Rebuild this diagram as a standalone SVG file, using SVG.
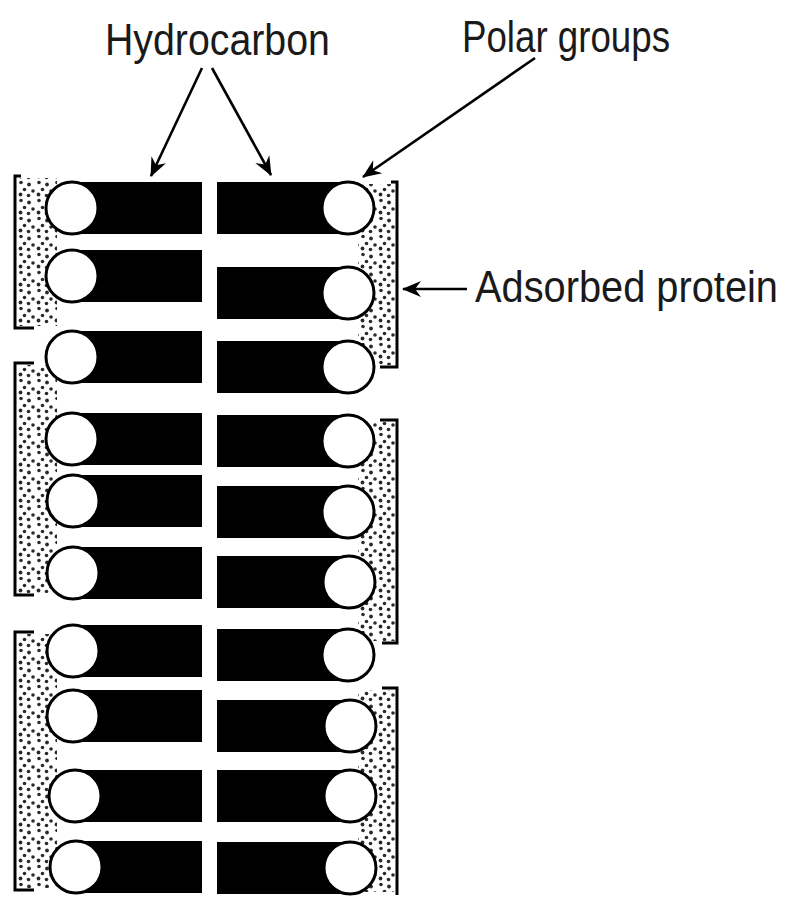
<svg xmlns="http://www.w3.org/2000/svg" width="791" height="899" viewBox="0 0 791 899">
  <style>
    .tail { fill: #000; }
    .head { fill: #fff; stroke: #000; stroke-width: 3; }
    .bracket { fill: none; stroke: #000; stroke-width: 3; stroke-linejoin: miter; }
    .stipple { fill: url(#dots); }
    .label { font-family: "Liberation Sans", Arial, sans-serif; fill: #1a1a1a; }
    .arrow { fill: none; stroke: #000; stroke-width: 2.6; marker-end: url(#barb); }
  </style>
  <defs>
    <pattern id="dots" width="18" height="18" patternUnits="userSpaceOnUse">
      <circle cx="3" cy="2.5" r="1.8" fill="#2a2a2a"/>
      <circle cx="11" cy="4.5" r="1.9" fill="#2a2a2a"/>
      <circle cx="6.5" cy="9.5" r="1.8" fill="#2a2a2a"/>
      <circle cx="15" cy="11" r="1.8" fill="#2a2a2a"/>
      <circle cx="2.5" cy="14.5" r="1.9" fill="#2a2a2a"/>
      <circle cx="10.5" cy="15.5" r="1.8" fill="#2a2a2a"/>
    </pattern>
    <marker id="barb" viewBox="-20 -10 22 20" refX="0" refY="0" markerWidth="22" markerHeight="20" markerUnits="userSpaceOnUse" orient="auto">
      <path d="M1,0 L-18,-8 L-12,0 L-18,8 Z" fill="#000"/>
    </marker>
  </defs>

  <rect width="791" height="899" fill="#fff"/>

  <!-- adsorbed protein layers: stippled fill behind the polar heads -->
  <g id="protein">
    <rect class="stipple" x="17" y="178" width="40" height="148"/>
    <rect class="stipple" x="17" y="365" width="40" height="228"/>
    <rect class="stipple" x="17" y="634" width="40" height="254"/>
    <rect class="stipple" x="358" y="184" width="37" height="181"/>
    <rect class="stipple" x="358" y="422" width="37" height="219"/>
    <rect class="stipple" x="358" y="690" width="37" height="202"/>
    <path class="bracket" d="M21,176 H15 V328 H34"/>
    <path class="bracket" d="M34,363 H15 V595 H34"/>
    <path class="bracket" d="M34,632 H15 V890 H34"/>
    <path class="bracket" d="M391,182 H397 V367 H380"/>
    <path class="bracket" d="M380,420 H397 V643 H382"/>
    <path class="bracket" d="M382,688 H397 V895"/>
  </g>

  <!-- left leaflet: head on the left, chain pointing inward -->
  <g id="left-leaflet">
    <g id="L1"><rect class="tail" x="72" y="182" width="130" height="52"/><circle class="head" cx="72" cy="208" r="26"/></g>
    <g id="L2"><rect class="tail" x="72" y="250" width="130" height="52"/><circle class="head" cx="72" cy="276" r="26"/></g>
    <g id="L3"><rect class="tail" x="72" y="331" width="130" height="52"/><circle class="head" cx="72" cy="357" r="26"/></g>
    <g id="L4"><rect class="tail" x="72" y="413" width="130" height="52"/><circle class="head" cx="72" cy="439" r="26"/></g>
    <g id="L5"><rect class="tail" x="73" y="475" width="129" height="52"/><circle class="head" cx="73" cy="501" r="26"/></g>
    <g id="L6"><rect class="tail" x="73" y="547" width="129" height="52"/><circle class="head" cx="73" cy="573" r="26"/></g>
    <g id="L7"><rect class="tail" x="73" y="625" width="129" height="52"/><circle class="head" cx="73" cy="651" r="26"/></g>
    <g id="L8"><rect class="tail" x="73" y="690" width="129" height="52"/><circle class="head" cx="73" cy="716" r="26"/></g>
    <g id="L9"><rect class="tail" x="75" y="770" width="127" height="52"/><circle class="head" cx="75" cy="796" r="26"/></g>
    <g id="L10"><rect class="tail" x="76" y="841" width="126" height="52"/><circle class="head" cx="76" cy="867" r="26"/></g>
  </g>

  <!-- right leaflet: chain pointing inward, head on the right -->
  <g id="right-leaflet">
    <g id="R1"><rect class="tail" x="217" y="182" width="131" height="52"/><circle class="head" cx="348" cy="208" r="26"/></g>
    <g id="R2"><rect class="tail" x="217" y="267" width="131" height="52"/><circle class="head" cx="348" cy="293" r="26"/></g>
    <g id="R3"><rect class="tail" x="217" y="341" width="131" height="52"/><circle class="head" cx="348" cy="367" r="26"/></g>
    <g id="R4"><rect class="tail" x="217" y="415" width="131" height="52"/><circle class="head" cx="348" cy="441" r="26"/></g>
    <g id="R5"><rect class="tail" x="217" y="486" width="131" height="52"/><circle class="head" cx="348" cy="512" r="26"/></g>
    <g id="R6"><rect class="tail" x="217" y="556" width="132" height="52"/><circle class="head" cx="349" cy="582" r="26"/></g>
    <g id="R7"><rect class="tail" x="217" y="629" width="131" height="52"/><circle class="head" cx="348" cy="655" r="26"/></g>
    <g id="R8"><rect class="tail" x="217" y="700" width="133" height="52"/><circle class="head" cx="350" cy="726" r="26"/></g>
    <g id="R9"><rect class="tail" x="217" y="770" width="133" height="52"/><circle class="head" cx="350" cy="796" r="26"/></g>
    <g id="R10"><rect class="tail" x="217" y="842" width="133" height="52"/><circle class="head" cx="350" cy="868" r="26"/></g>
  </g>

  <!-- labels (horizontally condensed lettering) -->
  <g id="label-hydrocarbon"><text class="label" transform="translate(105,55) scale(0.893,1)" font-size="44">Hydrocarbon</text></g>
  <g id="label-polar"><text class="label" transform="translate(462,52) scale(0.834,1)" font-size="44">Polar groups</text></g>
  <g id="label-protein"><text class="label" transform="translate(475,302) scale(0.884,1)" font-size="45">Adsorbed protein</text></g>

  <!-- pointer arrows -->
  <g id="connectors">
    <path class="arrow" d="M202,68 L151,176"/>
    <path class="arrow" d="M212,68 L271,175"/>
    <path class="arrow" d="M535,58 L363,177"/>
    <path class="arrow" d="M467,289 L403,289"/>
  </g>
</svg>
